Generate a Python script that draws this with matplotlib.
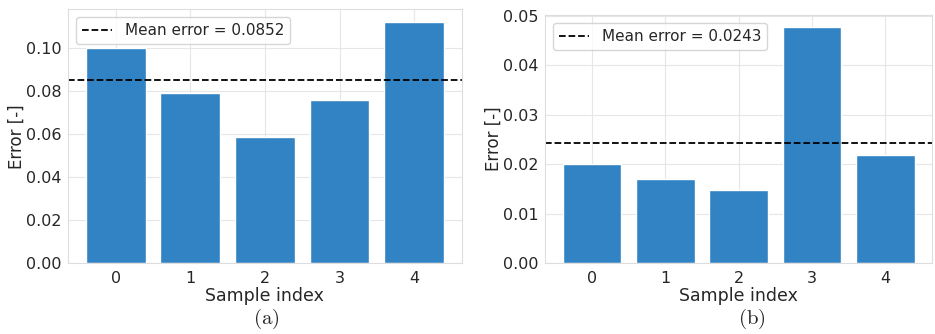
import matplotlib.pyplot as plt
import numpy as np
import seaborn as sns

sns.set_style('whitegrid')
plt.rcParams['font.family'] = ['DejaVu Sans']
plt.rcParams['mathtext.fontset'] = 'cm'

samples = [0, 1, 2, 3, 4]
err_a = [0.1000, 0.0792, 0.0584, 0.0758, 0.1123]
err_b = [0.0200, 0.0171, 0.0148, 0.0478, 0.0218]
mean_a = 0.0852
mean_b = 0.0243

bar_color = '#3283c4'

fig = plt.figure(figsize=(9.35, 3.34), dpi=100)
ax1 = fig.add_axes([0.0727, 0.2126, 0.4213, 0.759])
ax2 = fig.add_axes([0.583, 0.2126, 0.414, 0.742])

for ax, err, mean in [(ax1, err_a, mean_a), (ax2, err_b, mean_b)]:
    ax.bar(samples, err, width=0.8, color=bar_color)
    ax.axhline(mean, color='black', linestyle='--', linewidth=1.3,
               label=f'Mean error = {mean:.4f}')
    ax.set_xticks(samples)
    ax.set_xlabel('Sample index', fontsize=12.5, labelpad=1)
    ax.set_ylabel('Error [-]', fontsize=12, labelpad=0)
    ax.tick_params(labelsize=11.5, pad=2)
    ax.tick_params(axis='y', pad=1)
    ax.grid(color='#e6e6e6', linewidth=0.8)
    for s in ax.spines.values():
        s.set_color('#dddddd')
    ax.legend(loc='upper left', fontsize=11, framealpha=0.8)

fig.text(0.285, 0.045, r'$\mathrm{(a)}$', fontsize=15, ha='center', va='center')
fig.text(0.804, 0.045, r'$\mathrm{(b)}$', fontsize=15, ha='center', va='center')

fig.savefig('out.png', dpi=100)
